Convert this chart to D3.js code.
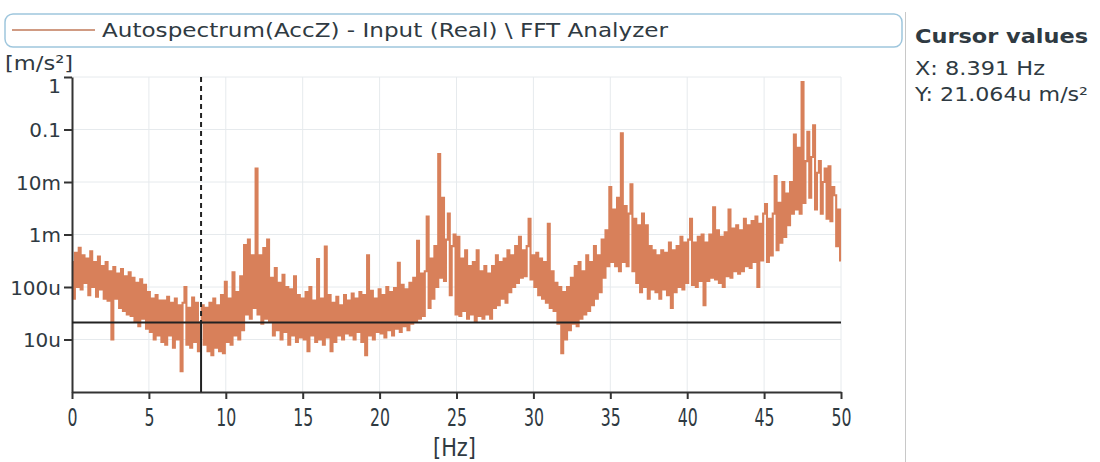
<!DOCTYPE html>
<html>
<head>
<meta charset="utf-8">
<script src="https://cdn.jsdelivr.net/npm/d3@7"></script>
<style>
  body { margin: 0; background: #fff; }
  text { font-family: "DejaVu Sans", Verdana, sans-serif; }
</style>
</head>
<body>
<svg id="chart" width="1100" height="462"></svg>
<script>
// spectrum bins, 0.125 Hz apart, 0..50 Hz, amplitude in micro m/s^2
var binStep = 0.125
var amp_u = [
  300, 60, 450, 100, 560, 90, 400, 120,
  350, 70, 480, 100, 300, 65, 380, 90,
  250, 60, 300, 55, 200, 10, 240, 60,
  180, 40, 220, 35, 160, 30, 190, 28,
  150, 22, 120, 18, 140, 25, 110, 16,
  80, 14, 60, 10, 70, 12, 55, 9,
  55, 8, 65, 12, 50, 7, 60, 10,
  45, 2.5, 50, 100, 8, 40, 7, 63,
  9, 50, 6, 21, 45, 8, 40, 6,
  50, 5, 60, 7, 45, 6, 70, 5.5,
  125, 9, 60, 8, 190, 12, 80, 10,
  160, 15, 630, 30, 800, 25, 400, 40,
  18000, 30, 400, 20, 550, 25, 800, 22,
  150, 12, 230, 15, 120, 10, 170, 14,
  100, 8, 90, 12, 160, 9, 70, 11,
  60, 10, 80, 6, 100, 12, 55, 9,
  340, 10, 60, 8, 590, 11, 70, 6,
  50, 9, 65, 12, 45, 10, 70, 13,
  55, 12, 75, 10, 60, 14, 80, 9,
  70, 5, 400, 12, 85, 10, 60, 14,
  90, 13, 70, 11, 100, 15, 80, 12,
  95, 16, 290, 14, 110, 18, 90, 15,
  120, 20, 150, 22, 760, 25, 180, 28,
  200, 2200, 40, 350, 60, 600, 100, 34000,
  150, 5000, 130, 800, 2500, 70, 600, 1000,
  30, 900, 28, 350, 35, 500, 25, 250,
  30, 300, 22, 500, 28, 200, 25, 250,
  30, 180, 25, 250, 40, 400, 45, 300,
  60, 350, 50, 500, 80, 400, 100, 600,
  120, 900, 150, 500, 160, 600, 2000, 140,
  400, 100, 450, 70, 350, 60, 300, 50,
  1600, 40, 200, 35, 120, 20, 100, 5.5,
  80, 10, 100, 15, 150, 20, 250, 18,
  300, 25, 200, 30, 400, 35, 300, 45,
  600, 60, 400, 80, 800, 150, 1200, 250,
  8000, 300, 3000, 250, 5000, 200, 85000, 300,
  3500, 250, 2500, 9000, 200, 2000, 120, 1500,
  80, 2500, 100, 1500, 60, 600, 90, 500,
  80, 400, 60, 500, 90, 450, 70, 700,
  40, 500, 80, 600, 100, 900, 90, 700,
  120, 800, 2000, 110, 700, 100, 900, 130,
  1000, 45, 700, 130, 1000, 150, 3300, 140,
  1200, 120, 900, 100, 1100, 160, 3000, 150,
  1300, 200, 1500, 180, 1200, 200, 2000, 250,
  1500, 230, 1800, 300, 2200, 100, 1600, 320,
  2500, 3800, 300, 2000, 400, 2500, 13000, 500,
  4000, 700, 10000, 900, 6000, 1500, 10000, 2500,
  80000, 3000, 45000, 2500, 800000, 4000, 25000, 90000,
  5000, 30000, 120000, 3000, 15000, 25000, 2500, 10000,
  18000, 2000, 20000, 1800, 8000, 5600, 600, 3000,
  320
]

var xTicks = [0, 5, 10, 15, 20, 25, 30, 35, 40, 45, 50]
var yTicks = [1e-5, 1e-4, 1e-3, 1e-2, 0.1, 1]
var yTickLabels = ["10u", "100u", "1m", "10m", "0.1", "1"]

var cursorX = 8.391
var cursorY = 21.064e-6
var legendText = "Autospectrum(AccZ) - Input (Real) \\ FFT Analyzer"

// plot box (window.top is read-only, so no bare "top")
var plotL = 72, plotR = 841, plotT = 77, plotB = 392
var lineColor = "#d8805a"
var inkColor = "#2f3a42"

var svg = d3.select('#chart')

var x = d3.scaleLinear().domain([0, 50]).range([plotL, plotR])
var y = d3.scaleLog().domain([1e-6, 1]).range([plotB, plotT]).clamp(true)

// grid
svg.append('g')
    .selectAll('line')
    .data(xTicks.slice(1))
    .join('line')
    .attr('x1', d => x(d)).attr('x2', d => x(d))
    .attr('y1', plotT).attr('y2', plotB)
    .attr('stroke', '#e6eaed').attr('stroke-width', 1)

svg.append('g')
    .selectAll('line')
    .data(yTicks)
    .join('line')
    .attr('x1', plotL).attr('x2', plotR)
    .attr('y1', d => y(d)).attr('y2', d => y(d))
    .attr('stroke', '#e6eaed').attr('stroke-width', 1)

// spectrum
var pts = amp_u.map(function(v, i) {
    return { f: i * binStep, a: v * 1e-6 }
})

svg.append('path')
    .datum(pts)
    .attr('fill', 'none')
    .attr('stroke', lineColor)
    .attr('stroke-width', 2.1)
    .attr('d', d3.line()
        .curve(d3.curveStep)
        .x(d => x(d.f))
        .y(d => y(d.a)))

// axes
var yAxis = svg.append('g')
    .attr('transform', 'translate(' + plotL + ',0)')
    .call(d3.axisLeft(y)
        .tickValues(yTicks)
        .tickFormat((d, i) => yTickLabels[i])
        .tickSize(8)
        .tickSizeOuter(0)
        .tickPadding(3))

yAxis.selectAll('text')
    .attr('font-size', 20)
    .attr('fill', inkColor)
    .attr('dy', (d) => d === 1 ? '0.75em' : '0.36em')

var xAxis = svg.append('g')
    .attr('transform', 'translate(0,' + plotB + ')')
    .call(d3.axisBottom(x)
        .tickValues(xTicks)
        .tickFormat(d3.format('d'))
        .tickSize(7)
        .tickSizeOuter(0)
        .tickPadding(9))

xAxis.selectAll('text')
    .attr('font-size', 25)
    .attr('fill', inkColor)
    .attr('textLength', function(d) { return String(d).length * 10 })
    .attr('lengthAdjust', 'spacingAndGlyphs')

svg.selectAll('.domain, .tick line')
    .attr('stroke', '#333')
    .attr('stroke-width', 2)

// cursor
svg.append('line')
    .attr('x1', plotL).attr('x2', plotR)
    .attr('y1', y(cursorY)).attr('y2', y(cursorY))
    .attr('stroke', '#222').attr('stroke-width', 2)

svg.append('line')
    .attr('x1', x(cursorX)).attr('x2', x(cursorX))
    .attr('y1', y(cursorY)).attr('y2', plotB)
    .attr('stroke', '#222').attr('stroke-width', 2)

svg.append('line')
    .attr('x1', x(cursorX)).attr('x2', x(cursorX))
    .attr('y1', plotT).attr('y2', y(cursorY))
    .attr('stroke', '#222').attr('stroke-width', 2)
    .attr('stroke-dasharray', '5,4')

// legend
svg.append('rect')
    .attr('x', 5).attr('y', 14)
    .attr('width', 897).attr('height', 33)
    .attr('rx', 8)
    .attr('fill', 'none')
    .attr('stroke', '#9ec6dd').attr('stroke-width', 1.5)

svg.append('line')
    .attr('x1', 12).attr('x2', 95)
    .attr('y1', 30).attr('y2', 30)
    .attr('stroke', '#c07a5a').attr('stroke-width', 1.5)

svg.append('text')
    .attr('x', 102).attr('y', 37)
    .attr('font-size', 20)
    .attr('fill', inkColor)
    .attr('textLength', 566)
    .attr('lengthAdjust', 'spacingAndGlyphs')
    .text(legendText)

// axis units
svg.append('text')
    .attr('x', 5).attr('y', 70)
    .attr('font-size', 20)
    .attr('fill', inkColor)
    .attr('textLength', 68)
    .attr('lengthAdjust', 'spacingAndGlyphs')
    .text('[m/s²]')

svg.append('text')
    .attr('x', 433).attr('y', 456)
    .attr('font-size', 25)
    .attr('fill', inkColor)
    .attr('textLength', 43)
    .attr('lengthAdjust', 'spacingAndGlyphs')
    .text('[Hz]')

// cursor panel
svg.append('line')
    .attr('x1', 905.5).attr('x2', 905.5)
    .attr('y1', 12).attr('y2', 462)
    .attr('stroke', '#c8c8c8').attr('stroke-width', 1)

svg.append('text')
    .attr('x', 915).attr('y', 43)
    .attr('font-size', 20)
    .attr('font-weight', 'bold')
    .attr('fill', inkColor)
    .attr('textLength', 173)
    .attr('lengthAdjust', 'spacingAndGlyphs')
    .text('Cursor values')

svg.append('text')
    .attr('x', 915).attr('y', 75)
    .attr('font-size', 19)
    .attr('fill', inkColor)
    .attr('textLength', 130)
    .attr('lengthAdjust', 'spacingAndGlyphs')
    .text('X: ' + d3.format('.3f')(cursorX) + ' Hz')

svg.append('text')
    .attr('x', 915).attr('y', 101)
    .attr('font-size', 19)
    .attr('fill', inkColor)
    .attr('textLength', 173)
    .attr('lengthAdjust', 'spacingAndGlyphs')
    .text('Y: ' + d3.format('.3f')(cursorY * 1e6) + 'u m/s²')
</script>
</body>
</html>
